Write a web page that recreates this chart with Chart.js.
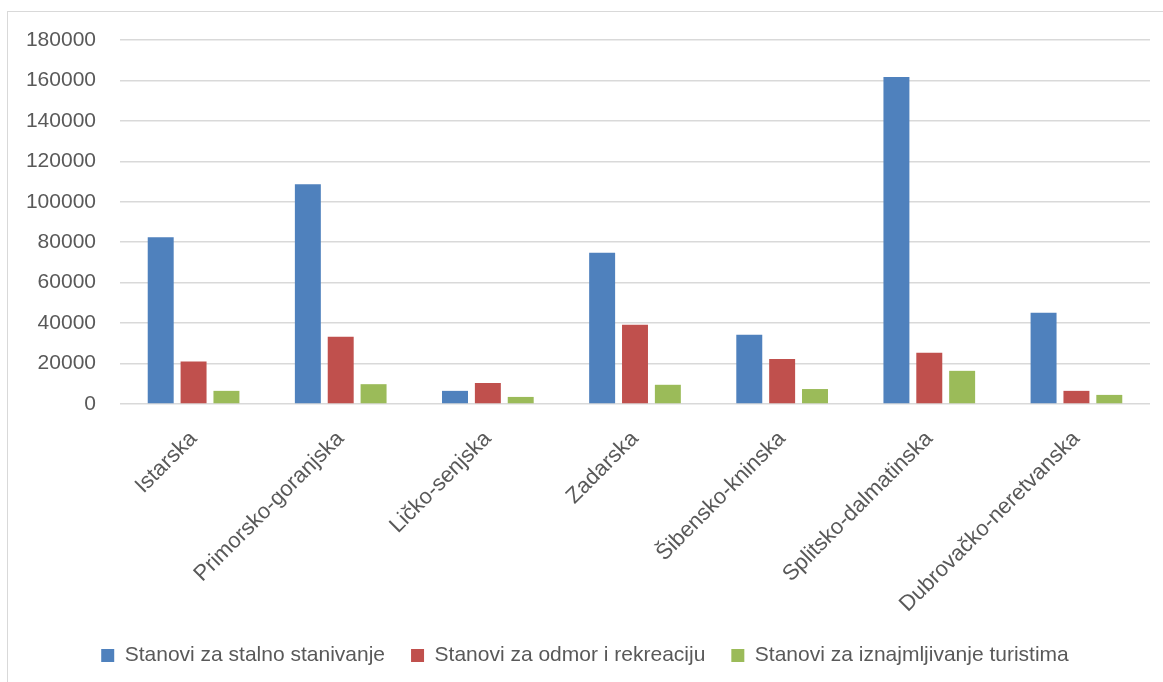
<!DOCTYPE html>
<html>
<head>
<meta charset="utf-8">
<script src="https://cdn.jsdelivr.net/npm/chart.js@4"></script>
<style>
  html, body { margin: 0; padding: 0; background: #fff; }
  #wrap { position: relative; width: 1163px; height: 682px; overflow: hidden; }
  #frame { position: absolute; left: 7px; top: 11px; width: 1200px; height: 720px;
           border: 1.5px solid #d9d9d9; box-sizing: border-box; }
  canvas { position: absolute; left: 0; top: 0; }
</style>
</head>
<body>
<div id="wrap">
  <div id="frame"></div>
  <canvas id="myChart" width="1163" height="682"></canvas>
</div>
<script>
// zupanije
const zupanije = ["Istarska", "Primorsko-goranjska", "Ličko-senjska", "Zadarska",
  "Šibensko-kninska", "Splitsko-dalmatinska", "Dubrovačko-neretvanska"];

// vrijednosti po seriji (procjena s grafa)
const stalno = [82500, 108700, 6500, 74800, 34200, 161700, 45100];
const odmor = [21000, 33200, 10400, 39200, 22300, 25300, 6500];
const turisti = [6500, 9800, 3500, 9500, 7400, 16400, 4500];

const yTicks = [0, 20000, 40000, 60000, 80000, 100000, 120000, 140000, 160000, 180000];

const siva = '#595959';
const font = { family: "'Liberation Sans', Arial, sans-serif", size: 21 };

const data = {
  labels: zupanije,
  datasets: [{
    label: 'Stanovi za stalno stanivanje',
    data: stalno,
    backgroundColor: '#4F81BD'
  }, {
    label: 'Stanovi za odmor i rekreaciju',
    data: odmor,
    backgroundColor: '#C0504D'
  }, {
    label: 'Stanovi za iznajmljivanje turistima',
    data: turisti,
    backgroundColor: '#9BBB59'
  }]
};

const config = {
  type: 'bar',
  data: data,
  options: {
    responsive: false,
    animation: false,
    categoryPercentage: 0.67,
    barPercentage: 0.79,
    layout: { padding: { left: 20, right: 13, top: 40, bottom: 6 } },
    plugins: {
      tooltip: { enabled: false },
      legend: {
        position: 'bottom',
        labels: {
          color: siva,
          font: font,
          boxWidth: 13,
          boxHeight: 13,
          padding: 26
        }
      }
    },
    scales: {
      x: {
        grid: { display: false },
        border: { display: false },
        ticks: {
          color: siva,
          font: { family: font.family, size: 22 },
          autoSkip: false,
          minRotation: 45,
          maxRotation: 45,
          padding: 14
        },
        afterFit: function (axis) { axis.height = 215; }
      },
      y: {
        min: 0,
        max: 180000,
        afterBuildTicks: function (axis) {
          axis.ticks = yTicks.map(v => ({ value: v }));
        },
        grid: { color: '#d9d9d9', lineWidth: 1.5, drawTicks: false },
        border: { display: false },
        ticks: {
          color: siva,
          font: font,
          padding: 24,
          callback: function (v) { return String(v); }
        },
        afterFit: function (axis) { axis.width = 100; }
      }
    }
  }
};

var myChart = new Chart(document.getElementById('myChart'), config);
</script>
</body>
</html>
